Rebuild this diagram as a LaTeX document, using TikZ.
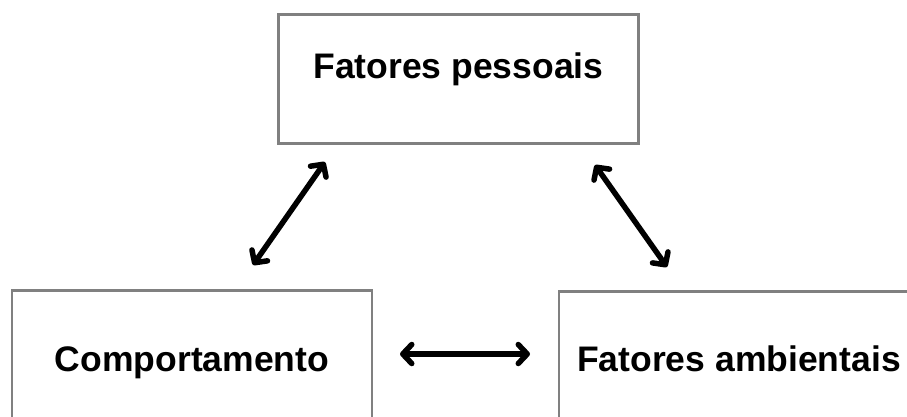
\documentclass[tikz,border=0pt]{standalone}
\usepackage{fontspec}
\setmainfont{Liberation Sans}
\usetikzlibrary{arrows.meta}
\begin{document}
\begin{tikzpicture}[x=1pt,y=-1pt,
  factor/.style={draw=black!50, line width=2.8pt, fill=white, inner sep=0pt,
    minimum width=360pt, font=\fontsize{35.5}{40}\selectfont\bfseries},
  barbtip/.tip={Straight Barb[length=9pt,width=19pt,line cap=round,line join=round]},
  link/.style={line width=5.5pt, black, line cap=round, {barbtip}-{barbtip}}]
\useasboundingbox (0,0) rectangle (907,416);
\clip (0,0) rectangle (907,416);
\node[factor, text height=64pt, text depth=65pt, anchor=north] (pes) at (458.5,13) {Fatores pessoais};
\node[factor, text height=81pt, text depth=48pt, anchor=north] (comp) at (192,289) {Comportamento};
\node[factor, text height=80pt, text depth=49pt, anchor=north] (amb) at (739,290) {Fatores ambientais};
\coordinate (a1) at (325,162);
\coordinate (a2) at (253,265);
\coordinate (b1) at (595,165);
\coordinate (b2) at (667,267);
\coordinate (c1) at (400,354);
\coordinate (c2) at (530,354);
\draw[link] (a1) -- (a2);
\draw[link] (b1) -- (b2);
\draw[link] (c1) -- (c2);
\end{tikzpicture}
\end{document}
